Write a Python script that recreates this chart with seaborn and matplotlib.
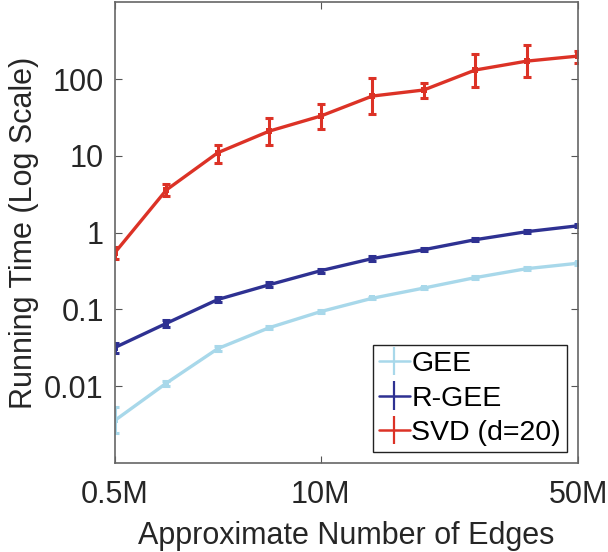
import numpy as np
import pandas as pd
import matplotlib
matplotlib.use("Agg")
import matplotlib.pyplot as plt
import seaborn as sns

# x positions (graph sizes) and the labelled ticks
x_idx = [1, 2, 3, 4, 5, 6, 7, 8, 9, 10]
tick_pos = [1, 5, 10]
tick_labels = ["0.5M", "10M", "50M"]

# running times (seconds), with lower / upper error bounds
gee = [0.0036, 0.011, 0.031, 0.058, 0.094, 0.14, 0.19, 0.26, 0.34, 0.40]
gee_lo = [0.0025, 0.0102, 0.029, 0.055, 0.090, 0.135, 0.183, 0.25, 0.325, 0.385]
gee_hi = [0.0053, 0.0118, 0.033, 0.061, 0.098, 0.145, 0.197, 0.27, 0.355, 0.415]

rgee = [0.032, 0.066, 0.135, 0.21, 0.32, 0.46, 0.60, 0.81, 1.03, 1.23]
rgee_lo = [0.027, 0.060, 0.124, 0.196, 0.30, 0.43, 0.57, 0.77, 0.98, 1.17]
rgee_hi = [0.037, 0.072, 0.146, 0.225, 0.34, 0.49, 0.63, 0.85, 1.08, 1.29]

svd = [0.55, 3.6, 11, 21, 33, 60, 72, 131, 171, 199]
svd_lo = [0.46, 3.0, 8.1, 14, 22.5, 35, 57, 79, 106, 162]
svd_hi = [0.66, 4.3, 14, 31, 47, 103, 89, 210, 275, 232]

methods = ["GEE", "R-GEE", "SVD (d=20)"]
colors = {"GEE": "#a8d8ea", "R-GEE": "#2e3192", "SVD (d=20)": "#dc3226"}

df = pd.DataFrame({
    "x": x_idx * 3,
    "time": gee + rgee + svd,
    "lo": gee_lo + rgee_lo + svd_lo,
    "hi": gee_hi + rgee_hi + svd_hi,
    "method": [m for m in methods for _ in x_idx],
})

sns.set_theme(style="ticks")
plt.rcParams["font.family"] = ["Liberation Sans", "DejaVu Sans"]
plt.rcParams["xtick.direction"] = "in"
plt.rcParams["ytick.direction"] = "in"

fig = plt.figure(figsize=(6.08, 5.52), dpi=100)
ax = fig.add_axes([0.189, 0.161, 0.762, 0.835])

sns.lineplot(data=df, x="x", y="time", hue="method", palette=colors,
             marker="s", markersize=4, markeredgewidth=0, linewidth=2.4,
             legend=False, ax=ax)

handles = []
for m in methods:
    sub = df[df["method"] == m]
    yerr = [sub["time"] - sub["lo"], sub["hi"] - sub["time"]]
    ax.errorbar(sub["x"], sub["time"], yerr=yerr, color=colors[m],
                fmt="none", elinewidth=2.2, capsize=3, capthick=2.2)
    # proxy only for the legend: a line with a capped vertical bar
    handles.append(ax.errorbar([], [], yerr=[], color=colors[m], fmt="-",
                               lw=1.8, elinewidth=1.6, capsize=3,
                               capthick=1.6))

ax.set_yscale("log")
ax.set_ylim(0.001, 1000)
ax.set_xlim(1, 10)
ax.set_yticks([0.01, 0.1, 1, 10, 100])
ax.set_yticklabels(["0.01", "0.1", "1", "10", "100"])
ax.minorticks_off()
ax.set_xticks(tick_pos)
ax.set_xticklabels(tick_labels)
ax.tick_params(axis="both", which="both", top=True, right=True, length=5,
               width=0.8, color="#555555", labelsize=22, labelcolor="#262626")
ax.tick_params(axis="x", pad=12)
ax.tick_params(axis="y", pad=8)
for s in ax.spines.values():
    s.set_color("#666666")
    s.set_linewidth(1.2)

ax.set_xlabel("Approximate Number of Edges", fontsize=22, color="#262626",
              labelpad=8)
ax.set_ylabel("Running Time (Log Scale)", fontsize=22, color="#262626",
              labelpad=4)

leg = ax.legend(handles=handles, labels=methods, loc="lower right",
                fontsize=20.5, frameon=True, fancybox=False, framealpha=1,
                handlelength=1.1, handletextpad=0.05, borderpad=0.2,
                labelspacing=0.3, borderaxespad=0.4)
leg.get_frame().set_edgecolor("#222222")
leg.get_frame().set_linewidth(1.0)
for t in leg.get_texts():
    t.set_color("black")

fig.savefig("out.png", dpi=100)
